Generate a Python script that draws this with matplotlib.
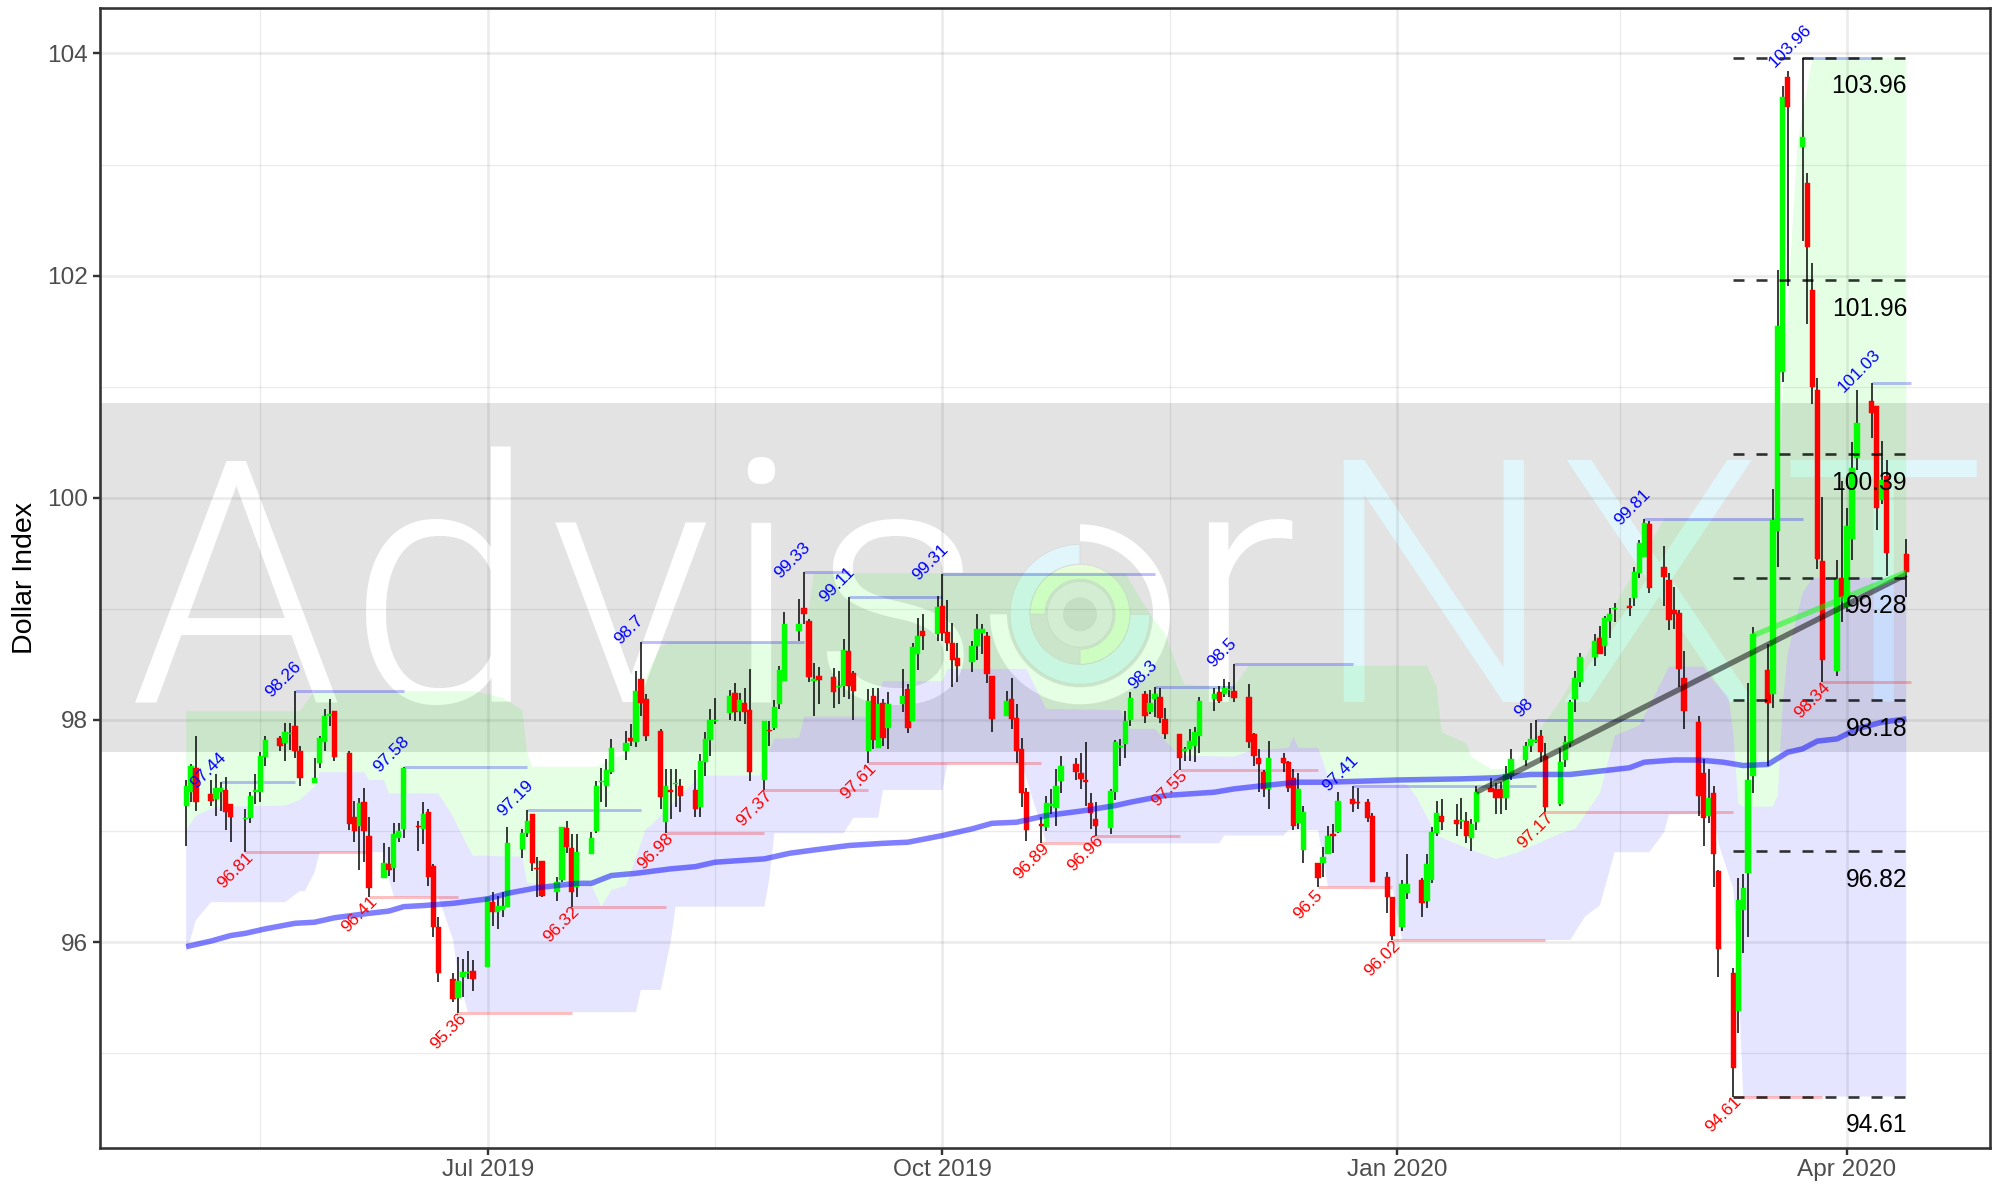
import datetime as dt
import matplotlib
matplotlib.use("Agg")
import matplotlib.pyplot as plt
import matplotlib.dates as mdates
from matplotlib.patches import Wedge, Circle
from matplotlib.transforms import IdentityTransform

# ---------- candle data, month by month ----------
days_2019_05 = [1,2,3,6,7,8,9,10,13,14,15,16,17,20,21,22,23,24,27,28,29,30,31]
days_2019_06 = [3,4,5,6,7,10,11,12,13,14,17,18,19,20,21,24,25,26,27,28]
days_2019_07 = [1,2,3,4,5,8,9,10,11,12,15,16,17,18,19,22,23,24,25,26,29,30,31]
days_2019_08 = [1,2,5,6,7,8,9,12,13,14,15,16,19,20,21,22,23,26,27,28,29,30]
days_2019_09 = [2,3,4,5,6,9,10,11,12,13,16,17,18,19,20,23,24,25,26,27,30]
days_2019_10 = [1,2,3,4,7,8,9,10,11,14,15,16,17,18,21,22,23,24,25,28,29,30,31]
days_2019_11 = [1,4,5,6,7,8,11,12,13,14,15,18,19,20,21,22,25,26,27,28,29]
days_2019_12 = [2,3,4,5,6,9,10,11,12,13,16,17,18,19,20,23,24,26,27,30,31]
days_2020_01 = [2,3,6,7,8,9,10,13,14,15,16,17,20,21,22,23,24,27,28,29,30,31]
days_2020_02 = [3,4,5,6,7,10,11,12,13,14,17,18,19,20,21,24,25,26,27,28]
days_2020_03 = [2,3,4,5,6,9,10,11,12,13,16,17,18,19,20,23,24,25,26,27,30,31]
days_2020_04 = [1,2,3,6,7,8,9,13]

dir_2019_05 = "ggrrggrrgggggrggrrggggr"
dir_2019_06 = "rrgrrgrgggrgrrrrgggr"
dir_2019_07 = "grgggggrrrggrrgggggggrg"
dir_2019_08 = "rrrgrgrrgggggrgrrgrggg"
dir_2019_09 = "grrgrrggrrgrgrggrggrg"
dir_2019_10 = "rrrrgggrrgrrrrrggggrrrr"
dir_2019_11 = "rgggggrggrrrgggggrggr"
dir_2019_12 = "rrrrgrrrggrggrgrrrrrr"
dir_2020_01 = "ggrgggrrgrggrrrgggggrr"
dir_2020_02 = "ggggggrgggrgggrrrrrr"
dir_2020_03 = "rrgrrrggggrgggrgrrrrgr"
dir_2020_04 = "gggrrgrr"

body_top = [
 97.41,97.59,97.57,97.33,97.39,97.39,97.37,97.24,97.12,97.32,97.37,97.68,97.82,97.84,97.89,97.88,97.95,97.72,97.48,97.84,98.04,98.05,98.08,
 97.70,97.13,97.25,97.26,96.96,96.71,96.70,96.97,97.00,97.57,97.05,97.15,97.17,96.69,96.14,95.67,95.65,95.73,95.73,95.74,
 96.41,96.36,96.33,96.33,96.89,96.98,97.09,97.15,96.67,96.73,96.54,97.04,97.03,96.85,96.81,96.94,97.41,97.45,97.55,97.75,97.79,97.84,98.26,
 98.37,98.19,97.90,97.41,97.37,97.43,97.41,97.37,97.63,97.83,98.00,98.00,98.22,98.24,98.18,98.15,98.09,97.99,97.91,98.12,98.45,98.86,
 98.86,99.01,98.89,98.37,98.40,98.39,98.31,98.63,98.62,98.42,98.17,98.22,98.14,98.15,98.14,98.22,98.28,98.66,98.76,98.80,99.02,
 99.03,98.79,98.69,98.56,98.67,98.82,98.82,98.76,98.40,98.17,98.19,98.02,97.74,97.35,97.06,97.25,97.24,97.41,97.59,97.60,97.52,97.46,97.25,
 97.11,97.36,97.80,97.77,97.99,98.20,98.23,98.15,98.23,98.21,98.01,97.87,97.74,97.81,97.89,98.17,98.23,98.25,98.29,98.28,98.26,
 98.21,97.87,97.66,97.53,97.66,97.66,97.62,97.48,97.38,97.17,96.71,96.77,96.96,96.97,97.27,97.29,97.26,97.26,97.14,96.59,96.41,
 96.52,96.52,96.56,96.70,96.99,97.16,97.14,97.10,97.10,97.09,97.06,97.35,97.39,97.38,97.38,97.51,97.65,97.77,97.83,97.82,97.86,97.68,
 97.62,97.80,98.16,98.38,98.57,98.71,98.74,98.92,98.95,99.01,99.03,99.33,99.59,99.77,99.76,99.38,99.26,98.99,98.96,98.38,
 97.98,97.52,97.30,97.34,96.64,95.72,96.38,96.49,97.46,98.77,98.45,99.80,101.55,103.61,103.79,103.25,102.83,101.87,100.97,99.43,99.27,99.28,
 99.75,100.27,100.67,100.87,100.83,100.16,100.20,99.49]
body_bottom = [
 97.23,97.35,97.26,97.27,97.29,97.35,97.17,97.13,97.11,97.12,97.35,97.35,97.67,97.77,97.79,97.87,97.72,97.48,97.43,97.61,97.80,98.04,97.67,
 97.06,97.00,97.05,97.00,96.49,96.58,96.65,96.67,96.94,97.02,97.04,97.02,96.59,96.14,95.72,95.49,95.50,95.69,95.72,95.67,
 95.78,96.27,96.27,96.29,96.32,96.84,96.98,96.71,96.66,96.42,96.45,96.56,96.86,96.45,96.50,96.79,97.00,97.44,97.41,97.53,97.72,97.81,97.80,
 98.15,97.86,97.31,97.08,97.35,97.42,97.32,97.20,97.22,97.62,97.82,97.99,98.06,98.07,98.08,98.07,97.53,97.46,97.90,97.93,98.14,98.35,
 98.80,98.95,98.39,98.35,98.36,98.25,98.30,98.31,98.31,98.26,97.72,97.82,97.75,97.84,97.93,98.14,97.93,97.99,98.59,98.76,98.77,
 98.78,98.69,98.54,98.49,98.52,98.67,98.78,98.41,98.01,98.04,98.01,97.72,97.34,97.01,97.05,97.04,97.23,97.21,97.45,97.53,97.47,97.44,97.16,
 97.05,97.03,97.35,97.76,97.78,98.00,98.04,98.07,98.19,98.02,97.87,97.66,97.72,97.74,97.77,97.86,98.19,98.17,98.23,98.27,98.20,
 97.80,97.68,97.60,97.38,97.38,97.61,97.39,97.05,97.07,96.83,96.58,96.71,96.79,96.96,96.99,97.24,97.25,97.12,96.54,96.41,96.06,
 96.14,96.44,96.35,96.37,96.56,96.98,97.08,97.06,97.09,96.96,96.94,97.08,97.35,97.30,97.30,97.30,97.50,97.64,97.77,97.80,97.71,97.22,
 97.24,97.64,97.79,98.19,98.34,98.57,98.59,98.67,98.89,99.00,99.01,99.10,99.32,99.47,99.19,99.29,98.90,98.95,98.46,98.08,
 97.32,97.12,97.14,96.79,95.94,94.87,95.38,96.29,96.62,97.50,98.15,98.23,99.70,101.13,103.52,103.16,102.26,101.00,99.45,98.54,98.44,99.11,
 99.02,99.63,100.36,100.76,99.91,99.98,99.50,99.33]
high = [
 97.46,97.60,97.86,97.46,97.51,97.44,97.49,97.24,97.20,97.35,97.51,97.71,97.86,97.86,97.97,97.97,98.26,97.77,97.66,97.86,98.10,98.19,98.08,
 97.72,97.27,97.30,97.39,97.13,96.89,96.86,97.07,97.07,97.58,97.09,97.26,97.20,96.70,96.23,95.72,95.87,95.85,95.92,95.84,
 96.41,96.45,96.42,96.45,97.04,97.02,97.19,97.15,96.77,96.73,96.59,97.04,97.09,96.97,96.97,96.99,97.45,97.57,97.65,97.83,97.90,97.96,98.44,
 98.70,98.23,97.92,97.56,97.56,97.56,97.47,97.55,97.69,97.89,98.10,98.20,98.27,98.33,98.24,98.29,98.46,97.99,97.99,98.18,98.49,98.97,
 99.09,99.33,98.91,98.51,98.48,98.47,98.44,98.73,99.11,98.44,98.28,98.29,98.29,98.19,98.25,98.46,98.32,98.69,98.92,98.95,99.12,
 99.31,99.08,98.87,98.69,98.71,98.95,98.86,98.79,98.40,98.26,98.38,98.14,97.84,97.39,97.13,97.32,97.38,97.56,97.68,97.66,97.70,97.80,97.34,
 97.26,97.38,97.82,97.83,98.08,98.25,98.26,98.27,98.30,98.29,98.11,97.87,97.76,97.92,97.94,98.21,98.29,98.31,98.37,98.34,98.50,
 98.32,97.88,97.74,97.55,97.81,97.70,97.63,97.56,97.52,97.23,96.71,96.86,97.05,97.06,97.35,97.41,97.39,97.29,97.16,96.63,96.41,
 96.56,96.79,96.58,96.79,97.04,97.27,97.29,97.24,97.30,97.17,97.11,97.41,97.48,97.43,97.44,97.59,97.74,97.80,97.97,98.00,97.91,97.79,
 97.75,97.86,98.18,98.44,98.60,98.77,98.85,98.94,99.01,99.05,99.10,99.38,99.62,99.81,99.79,99.57,99.32,99.20,98.99,98.62,
 98.04,97.65,97.56,97.41,96.65,95.77,96.58,96.61,98.33,98.84,98.68,100.08,102.05,103.71,103.84,103.96,102.92,102.11,101.08,100.01,99.44,100.15,
 99.91,100.50,100.97,101.03,100.83,100.51,100.34,99.63]
low = [
 96.87,97.26,97.18,97.23,97.14,97.18,97.01,96.90,96.81,97.07,97.24,97.26,97.59,97.72,97.63,97.73,97.66,97.41,97.43,97.57,97.72,97.95,97.63,
 97.01,96.90,96.65,96.72,96.41,96.58,96.60,96.54,96.90,96.94,96.82,96.88,96.51,96.05,95.64,95.46,95.36,95.51,95.67,95.56,
 95.78,96.15,96.12,96.23,96.32,96.76,96.95,96.64,96.41,96.41,96.37,96.54,96.80,96.32,96.41,96.79,96.98,97.26,97.22,97.51,97.64,97.77,97.76,
 98.04,97.81,97.20,96.98,97.11,97.22,97.17,97.13,97.13,97.50,97.68,97.96,98.00,97.99,97.99,97.96,97.45,97.37,97.77,97.91,98.10,98.35,
 98.71,98.86,98.34,98.04,98.14,98.11,98.14,98.21,98.19,98.00,97.61,97.74,97.75,97.77,97.74,98.07,97.88,97.99,98.45,98.63,98.71,
 98.71,98.62,98.30,98.34,98.43,98.54,98.59,98.33,97.89,98.04,97.92,97.61,97.22,96.91,96.89,97.00,97.15,97.05,97.34,97.46,97.38,97.23,97.02,
 96.96,96.97,97.28,97.59,97.66,97.95,97.97,98.05,98.03,97.97,97.83,97.55,97.63,97.63,97.62,97.70,98.08,98.15,98.21,98.21,98.16,
 97.75,97.59,97.35,97.31,97.20,97.53,97.35,97.01,97.02,96.71,96.50,96.59,96.79,96.80,96.98,97.17,97.20,97.08,96.54,96.26,96.02,
 96.10,96.39,96.23,96.31,96.53,96.96,97.01,96.96,97.02,96.89,96.82,97.01,97.35,97.15,97.15,97.19,97.46,97.59,97.71,97.79,97.62,97.17,
 97.23,97.58,97.76,98.07,98.30,98.49,98.59,98.58,98.74,98.88,98.94,99.03,99.28,99.47,99.14,99.03,98.81,98.82,98.30,97.92,
 97.14,96.87,97.07,96.50,95.69,94.61,95.18,95.90,96.05,97.34,97.59,98.11,99.38,101.04,101.91,102.31,101.56,100.84,99.36,98.34,98.40,98.88,
 98.97,99.44,100.25,100.54,99.71,99.94,99.30,99.11]

# ---------- moving average ----------
ma_dates = ["2019-05-01","2019-05-06","2019-05-10","2019-05-13","2019-05-17","2019-05-23","2019-05-27","2019-05-31",
 "2019-06-07","2019-06-11","2019-06-14","2019-06-18","2019-06-24","2019-07-01","2019-07-05","2019-07-11","2019-07-19",
 "2019-07-22","2019-07-26","2019-07-31","2019-08-07","2019-08-12","2019-08-16","2019-08-26","2019-08-31","2019-09-05",
 "2019-09-12","2019-09-19","2019-09-24","2019-10-01","2019-10-07","2019-10-11","2019-10-16","2019-10-22","2019-10-29",
 "2019-11-05","2019-11-08","2019-11-15","2019-11-25","2019-11-29","2019-12-05","2019-12-12","2019-12-18","2019-12-25",
 "2020-01-01","2020-01-14","2020-01-21","2020-01-28","2020-02-05","2020-02-11","2020-02-17","2020-02-20","2020-02-26",
 "2020-03-02","2020-03-07","2020-03-11","2020-03-16","2020-03-20","2020-03-23","2020-03-26","2020-03-30","2020-04-03",
 "2020-04-08","2020-04-13"]
ma_values = [95.96,96.01,96.06,96.08,96.12,96.17,96.18,96.22,96.26,96.28,96.32,96.33,96.35,96.39,96.44,96.49,96.53,
 96.53,96.60,96.62,96.66,96.68,96.72,96.75,96.80,96.83,96.87,96.89,96.90,96.96,97.02,97.07,97.08,97.14,97.18,97.23,
 97.26,97.32,97.35,97.38,97.41,97.44,97.44,97.45,97.46,97.47,97.48,97.51,97.51,97.54,97.57,97.62,97.64,97.64,97.62,
 97.59,97.60,97.71,97.74,97.81,97.83,97.92,97.98,98.01]

# ---------- ribbons ----------
green_top_dates = ["2019-05-01","2019-05-24","2019-05-27","2019-06-28","2019-07-04","2019-07-08","2019-07-09","2019-07-10",
 "2019-07-23","2019-07-29","2019-08-01","2019-08-05","2019-08-07","2019-09-03","2019-09-05","2019-11-07","2019-11-12",
 "2019-11-15","2019-11-18","2019-11-19","2019-11-29","2019-12-02","2020-01-07","2020-01-09","2020-01-10","2020-01-15",
 "2020-01-16","2020-01-20","2020-01-24","2020-02-03","2020-02-24","2020-03-18","2020-03-19","2020-03-22","2020-03-25","2020-04-13"]
green_top = [98.08,98.08,98.26,98.26,98.20,98.09,97.70,97.58,97.58,97.70,98.30,98.66,98.70,98.70,99.32,99.32,98.95,98.78,
 98.42,98.32,98.30,98.49,98.49,98.30,97.89,97.79,97.67,97.56,97.56,98.17,99.81,99.81,100.98,103.20,103.96,103.96]
mid_dates = ["2019-05-01","2019-05-03","2019-05-07","2019-05-21","2019-05-24","2019-05-27","2019-05-28","2019-06-06",
 "2019-06-07","2019-06-10","2019-06-11","2019-06-21","2019-06-24","2019-06-27","2019-06-28","2019-07-08","2019-07-09",
 "2019-07-22","2019-07-24","2019-07-26","2019-07-29","2019-08-02","2019-08-03","2019-08-13","2019-08-25","2019-08-28",
 "2019-09-02","2019-09-03","2019-09-16","2019-09-19","2019-10-01","2019-10-02","2019-10-18","2019-10-22","2019-11-06",
 "2019-11-08","2019-11-13","2019-11-16","2019-11-18","2019-11-29","2019-12-02","2019-12-10","2019-12-11","2019-12-12",
 "2019-12-16","2019-12-18","2019-12-24","2020-01-03","2020-01-05","2020-01-09","2020-01-16","2020-01-21","2020-01-25",
 "2020-02-03","2020-02-06","2020-02-11","2020-02-14","2020-02-19","2020-02-25","2020-03-03","2020-03-05","2020-03-08",
 "2020-03-09","2020-03-10","2020-03-11","2020-03-17","2020-03-18","2020-03-19","2020-03-20","2020-03-23","2020-03-25","2020-04-13"]
mid_values = [97.01,97.14,97.22,97.23,97.28,97.40,97.53,97.53,97.46,97.46,97.34,97.34,97.13,96.86,96.78,96.77,96.53,
 96.51,96.32,96.47,96.51,97.02,97.05,97.50,97.50,97.83,97.84,98.03,98.03,98.35,98.35,98.46,98.46,98.10,98.09,
 97.92,97.92,97.77,97.68,97.67,97.72,97.75,97.85,97.75,97.75,97.49,97.46,97.42,97.30,96.96,96.83,96.75,96.80,
 96.98,97.02,97.34,97.86,97.95,98.48,98.48,98.35,98.21,97.88,97.25,97.22,97.22,97.32,98.15,98.60,99.14,99.28,99.28]
blue_bottom_dates = ["2019-05-01","2019-05-03","2019-05-06","2019-05-21","2019-05-24","2019-05-25","2019-05-27","2019-05-28",
 "2019-06-10","2019-06-11","2019-06-12","2019-06-21","2019-06-24","2019-06-25","2019-06-27","2019-07-31","2019-08-01",
 "2019-08-05","2019-08-07","2019-08-08","2019-08-26","2019-08-27","2019-08-28","2019-09-11","2019-09-13","2019-09-18",
 "2019-09-19","2019-10-01","2019-10-02","2019-10-17","2019-10-22","2019-10-30","2019-11-01","2019-11-26","2019-11-27",
 "2019-12-09","2019-12-10","2019-12-16","2019-12-18","2019-12-31","2020-01-02","2020-02-05","2020-02-08","2020-02-11",
 "2020-02-14","2020-02-21","2020-02-24","2020-02-25","2020-03-05","2020-03-06","2020-03-09","2020-03-10","2020-03-11","2020-04-13"]
blue_bottom = [95.90,96.20,96.36,96.36,96.46,96.46,96.63,96.81,96.81,96.57,96.41,96.41,96.02,95.69,95.37,95.37,95.57,
 95.57,96.00,96.32,96.32,96.58,96.98,96.98,97.12,97.12,97.37,97.37,97.61,97.61,96.90,96.90,96.89,96.89,96.96,96.96,
 97.01,97.01,96.50,96.50,96.02,96.02,96.23,96.33,96.81,96.81,96.99,97.15,97.16,96.89,96.48,95.70,94.61,94.61]

# ---------- swings, fibonacci levels, trend lines ----------
swing_high_dates = ["2019-05-08","2019-05-23","2019-06-14","2019-07-09","2019-08-01","2019-09-03","2019-09-12","2019-10-01",
 "2019-11-13","2019-11-29","2019-12-23","2020-01-29","2020-02-20","2020-03-23","2020-04-06"]
swing_high_values = [97.44,98.26,97.58,97.19,98.7,99.33,99.11,99.31,98.3,98.5,97.41,98,99.81,103.96,101.03]
swing_low_dates = ["2019-05-13","2019-06-07","2019-06-25","2019-07-18","2019-08-06","2019-08-26","2019-09-16","2019-10-21",
 "2019-11-01","2019-11-18","2019-12-16","2019-12-31","2020-01-31","2020-03-09","2020-03-27"]
swing_low_values = [96.81,96.41,95.36,96.32,96.98,97.37,97.61,96.89,96.96,97.55,96.5,96.02,97.17,94.61,98.34]
swing_end = "2020-04-14"
fib_levels = [103.96,101.96,100.39,99.28,98.18,96.82,94.61]
fib_start, fib_end = "2020-03-09", "2020-04-13"
trend_black_dates, trend_black = ["2020-01-17","2020-04-13"], [97.35,99.31]
trend_green_dates, trend_green = ["2020-03-13","2020-04-13"], [98.76,99.33]

y_ticks = [96,98,100,102,104]
y_minor = [95,97,99,101,103]
x_ticks = ["2019-07-01","2019-10-01","2020-01-01","2020-04-01"]
x_tick_labels = ["Jul 2019","Oct 2019","Jan 2020","Apr 2020"]
x_minor = ["2019-05-16","2019-08-16","2019-11-16","2020-02-15"]
y_label = "Dollar Index"


def num(s):
    return mdates.date2num(dt.date.fromisoformat(s))


months = [(2019,5,days_2019_05),(2019,6,days_2019_06),(2019,7,days_2019_07),(2019,8,days_2019_08),
          (2019,9,days_2019_09),(2019,10,days_2019_10),(2019,11,days_2019_11),(2019,12,days_2019_12),
          (2020,1,days_2020_01),(2020,2,days_2020_02),(2020,3,days_2020_03),(2020,4,days_2020_04)]
x_dates = [mdates.date2num(dt.date(y,m,d)) for y,m,ds in months for d in ds]
direction = (dir_2019_05+dir_2019_06+dir_2019_07+dir_2019_08+dir_2019_09+dir_2019_10+dir_2019_11+dir_2019_12
             +dir_2020_01+dir_2020_02+dir_2020_03+dir_2020_04)
n = min(len(x_dates), len(direction), len(body_top), len(body_bottom), len(high), len(low))

W, H = 2007, 1187
plt.rcParams['font.family'] = ['Liberation Sans', 'DejaVu Sans']
fig = plt.figure(figsize=(W/100, H/100), dpi=100)
L, R, T, B = 100, 1990, 7.7, 1147.6
ax = fig.add_axes([L/W, 1-B/H, (R-L)/W, (B-T)/H])
px = 0.72  # points per pixel


# ---------- watermark ----------
def py(y):
    return H - y


idt = IdentityTransform()
ax.axhspan(97.71, 100.85, color=(0, 0, 0), alpha=0.11, lw=0, zorder=0.5)
wm_font = ['Roboto', 'Liberation Sans']
letters = [("A",130,'white'),("d",348,'white'),("v",549,'white'),("i",722,'white'),("s",810,'white'),("r",1182,'white'),
           ("N",1312,'#e0f6fb'),("X",1555,'#e0f6fb'),("T",1781,'#e0f6fb')]
for ch, lx, col in letters:
    ax.text(lx, py(702), ch, transform=idt, fontsize=245, family=wm_font, fontweight=300, color=col,
            ha='left', va='baseline', zorder=0.6, clip_on=True)

cx, cy = 1080, py(614.3)
ax.add_patch(Wedge((cx,cy), 90, 180, 450, width=17, transform=idt, fc='white', ec='none', zorder=0.6))
ax.add_patch(Wedge((cx,cy), 70, 90, 360, width=20, transform=idt, fc='#e0f6fb', ec='#dcdcdc', lw=0.7, zorder=0.6))
ax.add_patch(Wedge((cx,cy), 50, -90, 180, width=15, transform=idt, fc='#e6fdd8', ec='#dcdcdc', lw=0.7, zorder=0.6))
ax.add_patch(Circle((cx,cy), 33, transform=idt, fc='#ececec', ec='#dadada', lw=0.7, zorder=0.6))
ax.add_patch(Circle((cx,cy), 17, transform=idt, fc='#dcdcdc', ec='none', zorder=0.6))

# ---------- grid ----------
for v in y_ticks:
    ax.axhline(v, color='k', alpha=0.08, lw=2.6*px, zorder=0.8)
for v in y_minor:
    ax.axhline(v, color='k', alpha=0.08, lw=1.3*px, zorder=0.8)
for s in x_ticks:
    ax.axvline(num(s), color='k', alpha=0.08, lw=2.6*px, zorder=0.8)
for s in x_minor:
    ax.axvline(num(s), color='k', alpha=0.08, lw=1.3*px, zorder=0.8)

# ---------- ribbons ----------
gt_x = [num(s) for s in green_top_dates]
mid_x = [num(s) for s in mid_dates]
bb_x = [num(s) for s in blue_bottom_dates]
ax.fill(gt_x + mid_x[::-1], green_top + mid_values[::-1], color=(0,1,0), alpha=0.1, lw=0, zorder=1)
ax.fill(mid_x + bb_x[::-1], mid_values + blue_bottom[::-1], color=(0,0,1), alpha=0.1, lw=0, zorder=1)

# ---------- swing lines ----------
hx = [num(s) for s in swing_high_dates]
lx_ = [num(s) for s in swing_low_dates]
ax.hlines(swing_high_values, hx, hx[1:]+[num(swing_end)], color=(0,0,1), alpha=0.25, lw=3*px, zorder=1.5)
ax.hlines(swing_low_values, lx_, lx_[1:]+[num(swing_end)], color=(1,0,0), alpha=0.25, lw=3*px, zorder=1.5)

# ---------- candles ----------
ax.vlines(x_dates[:n], low[:n], high[:n], color='black', lw=1.5*px, zorder=2)
for i in range(n):
    c = '#00ff00' if direction[i] == 'g' else '#ff0000'
    ax.bar(x_dates[i], body_top[i]-body_bottom[i], bottom=body_bottom[i], width=1.08, color=c, lw=0.3, ec=c, zorder=2.2)

# ---------- lines ----------
ax.plot([num(s) for s in ma_dates], ma_values, color=(0,0,1), alpha=0.5, lw=5.5*px, zorder=3, solid_capstyle='butt')
ax.plot([num(s) for s in trend_black_dates], trend_black, color='k', alpha=0.5, lw=5.5*px, zorder=3, solid_capstyle='butt')
ax.plot([num(s) for s in trend_green_dates], trend_green, color=(0,1,0), alpha=0.5, lw=5.5*px, zorder=3, solid_capstyle='butt')
ax.hlines(fib_levels, num(fib_start), num(fib_end), color='k', alpha=0.8, lw=2.6*px, linestyles=(0,(11/2.6,12/2.6)), zorder=3.2)
for v in fib_levels:
    ax.annotate(f"{v:.2f}", (num(fib_end), v), xytext=(0.5, -28.5*px), textcoords='offset points', ha='right', va='center',
                fontsize=17.7, color='black', zorder=4)

# ---------- swing labels ----------
for x, v in zip(hx, swing_high_values):
    ax.annotate(f"{v:g}", (x, v), xytext=(-12*px, 12*px), textcoords='offset points', rotation=45,
                ha='center', va='center', fontsize=12.5, color='#0000ff', zorder=4)
for x, v in zip(lx_, swing_low_values):
    ax.annotate(f"{v:g}", (x, v), xytext=(-10*px, -18*px), textcoords='offset points', rotation=45,
                ha='center', va='center', fontsize=12.5, color='#ff0000', zorder=4)

# ---------- axes ----------
ax.set_xlim(num("2019-07-01") + (L-487.7)/4.943, num("2020-04-01") + (R-1847)/4.943)
ax.set_ylim(100-(B-497.8)/111.1, 100+(497.8-T)/111.1)
ax.set_xticks([num(s) for s in x_ticks], x_tick_labels)
ax.set_yticks(y_ticks, [str(v) for v in y_ticks])
ax.tick_params(axis='both', length=7*px, width=2.4*px, color='#333333', labelcolor='#4d4d4d', labelsize=17.6, pad=3.5)
ax.set_ylabel(y_label, fontsize=20.5, color='black', labelpad=6.5)
for s in ax.spines.values():
    s.set_color('#333333')
    s.set_linewidth(2.6*px)
    s.set_zorder(5)

fig.savefig("out.png", dpi=100, facecolor='white')
